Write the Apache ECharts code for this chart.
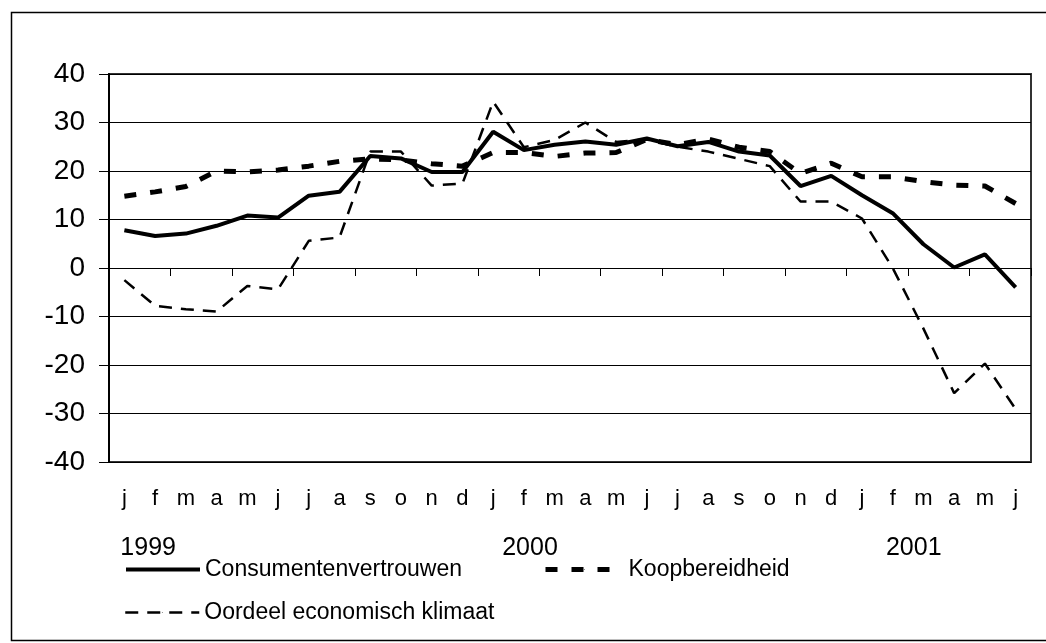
<!DOCTYPE html>
<html><head><meta charset="utf-8">
<script src="https://cdn.jsdelivr.net/npm/echarts@6/dist/echarts.min.js"></script>
<style>html,body{margin:0;padding:0;background:#fff}#c{width:1046px;height:643px}</style>
</head><body><div id="c"></div>
<script>
// ---- data ----
const monthLetters = ['j','f','m','a','m','j','j','a','s','o','n','d',
                      'j','f','m','a','m','j','j','a','s','o','n','d',
                      'j','f','m','a','m','j'];
const years = ['1999','2000','2001'];
const categories = monthLetters.map((m, i) => years[Math.floor(i / 12)] + '-' + (i % 12 + 1));
const consumentenvertrouwen = [7.8, 6.6, 7.1, 8.7, 10.8, 10.4, 14.9, 15.7, 23.1, 22.6, 19.8, 19.8,
                               28.1, 24.3, 25.4, 26.1, 25.4, 26.7, 25.1, 26.0, 24.0, 23.2, 16.9, 19.0,
                               15.0, 11.3, 4.9, 0.1, 2.8, -4.0];
const koopbereidheid = [14.8, 15.7, 16.8, 20.0, 19.8, 20.2, 21.0, 22.0, 22.5, 22.3, 21.5, 21.0,
                        23.8, 23.8, 23.0, 23.7, 23.8, 26.5, 25.4, 26.6, 24.9, 24.0, 19.5, 21.6,
                        18.8, 18.8, 17.8, 17.1, 16.9, 13.3];
const oordeel = [-2.5, -7.8, -8.5, -9.0, -3.7, -4.4, 5.6, 6.3, 24.0, 24.0, 17.0, 17.4,
                 34.3, 24.9, 26.4, 30.0, 26.0, 26.5, 25.0, 24.0, 22.5, 21.0, 13.7, 13.7,
                 10.2, 0.0, -12.5, -25.8, -19.7, -29.1];
const seriesNames = ['Consumentenvertrouwen', 'Koopbereidheid', 'Oordeel economisch klimaat'];

// ---- chart ----
const FONT = "'Liberation Sans', Arial, sans-serif";
const chart = echarts.init(document.getElementById('c'), null, {renderer: 'canvas'});
const legendText = {fontSize: 23, fontFamily: FONT, color: '#000'};
const legendLine = {width: 'inherit', type: 'inherit', color: 'inherit'};
const option = {
  animation: false,
  backgroundColor: '#fff',
  textStyle: {fontFamily: FONT, color: '#000'},
  grid: {left: 109, top: 74, right: 15, bottom: 181, show: true,
         borderColor: '#333', borderWidth: 2, containLabel: false},
  legend: [
    {data: [seriesNames[0]], left: 119, top: 553, itemWidth: 74, itemHeight: 1,
     textStyle: legendText, lineStyle: legendLine},
    {data: [seriesNames[1]], left: 538, top: 553, itemWidth: 78, itemHeight: 1,
     textStyle: legendText, lineStyle: legendLine},
    {data: [seriesNames[2]], left: 119, top: 596, itemWidth: 74, itemHeight: 1,
     textStyle: legendText, lineStyle: legendLine}
  ],
  xAxis: [
    {type: 'category', data: categories, boundaryGap: true, position: 'bottom',
     axisLine: {onZero: true, lineStyle: {color: '#000', width: 1}},
     axisTick: {show: true, length: 8, lineStyle: {color: '#000', width: 1}},
     axisLabel: {show: false}, splitLine: {show: false}},
    {type: 'category', data: categories, boundaryGap: true, position: 'bottom',
     axisLine: {show: false, onZero: false}, axisTick: {show: false},
     axisLabel: {show: true, interval: 0, margin: 26, fontSize: 22, fontFamily: FONT, color: '#000',
                 formatter: (v, i) => monthLetters[i]}}
  ],
  yAxis: {type: 'value', min: -40, max: 40, interval: 10,
          axisLine: {show: true, lineStyle: {color: '#000', width: 2}},
          axisTick: {show: true, length: 10, lineStyle: {color: '#000', width: 1}},
          axisLabel: {fontSize: 28, fontFamily: FONT, color: '#000', margin: 24},
          splitLine: {show: true, lineStyle: {color: '#000', width: 1}}},
  series: [
    {name: seriesNames[0], type: 'line', data: consumentenvertrouwen, symbol: 'none',
     lineStyle: {color: '#000', width: 4, type: 'solid'}, itemStyle: {color: '#000', borderWidth: 0}, z: 4},
    {name: seriesNames[1], type: 'line', data: koopbereidheid, symbol: 'none',
     lineStyle: {color: '#000', width: 5, type: [12, 14]}, itemStyle: {color: '#000', borderWidth: 0}, z: 3},
    {name: seriesNames[2], type: 'line', data: oordeel, symbol: 'none',
     lineStyle: {color: '#000', width: 2.5, type: [13, 9]}, itemStyle: {color: '#000', borderWidth: 0}, z: 2}
  ],
  graphic: [
    {type: 'rect', left: 9, top: 10, silent: true, z: -10,
     shape: {width: 1100, height: 628},
     style: {fill: 'none', stroke: '#000', lineWidth: 1.5}}
  ]
};
chart.setOption(option);

// year labels under the month row, anchored at the first month of each year
const yearOffsets = [-4, 9, 24];
const yearGraphics = years.map((y, k) => {
  const px = chart.convertToPixel({xAxisIndex: 0}, categories[k * 12]);
  return {type: 'text', x: px + yearOffsets[k], y: 548, silent: true,
          style: {text: y, font: '25px ' + FONT, fill: '#000', textAlign: 'left', textVerticalAlign: 'middle'}};
});
chart.setOption({graphic: option.graphic.concat(yearGraphics)});
</script>
</body></html>
